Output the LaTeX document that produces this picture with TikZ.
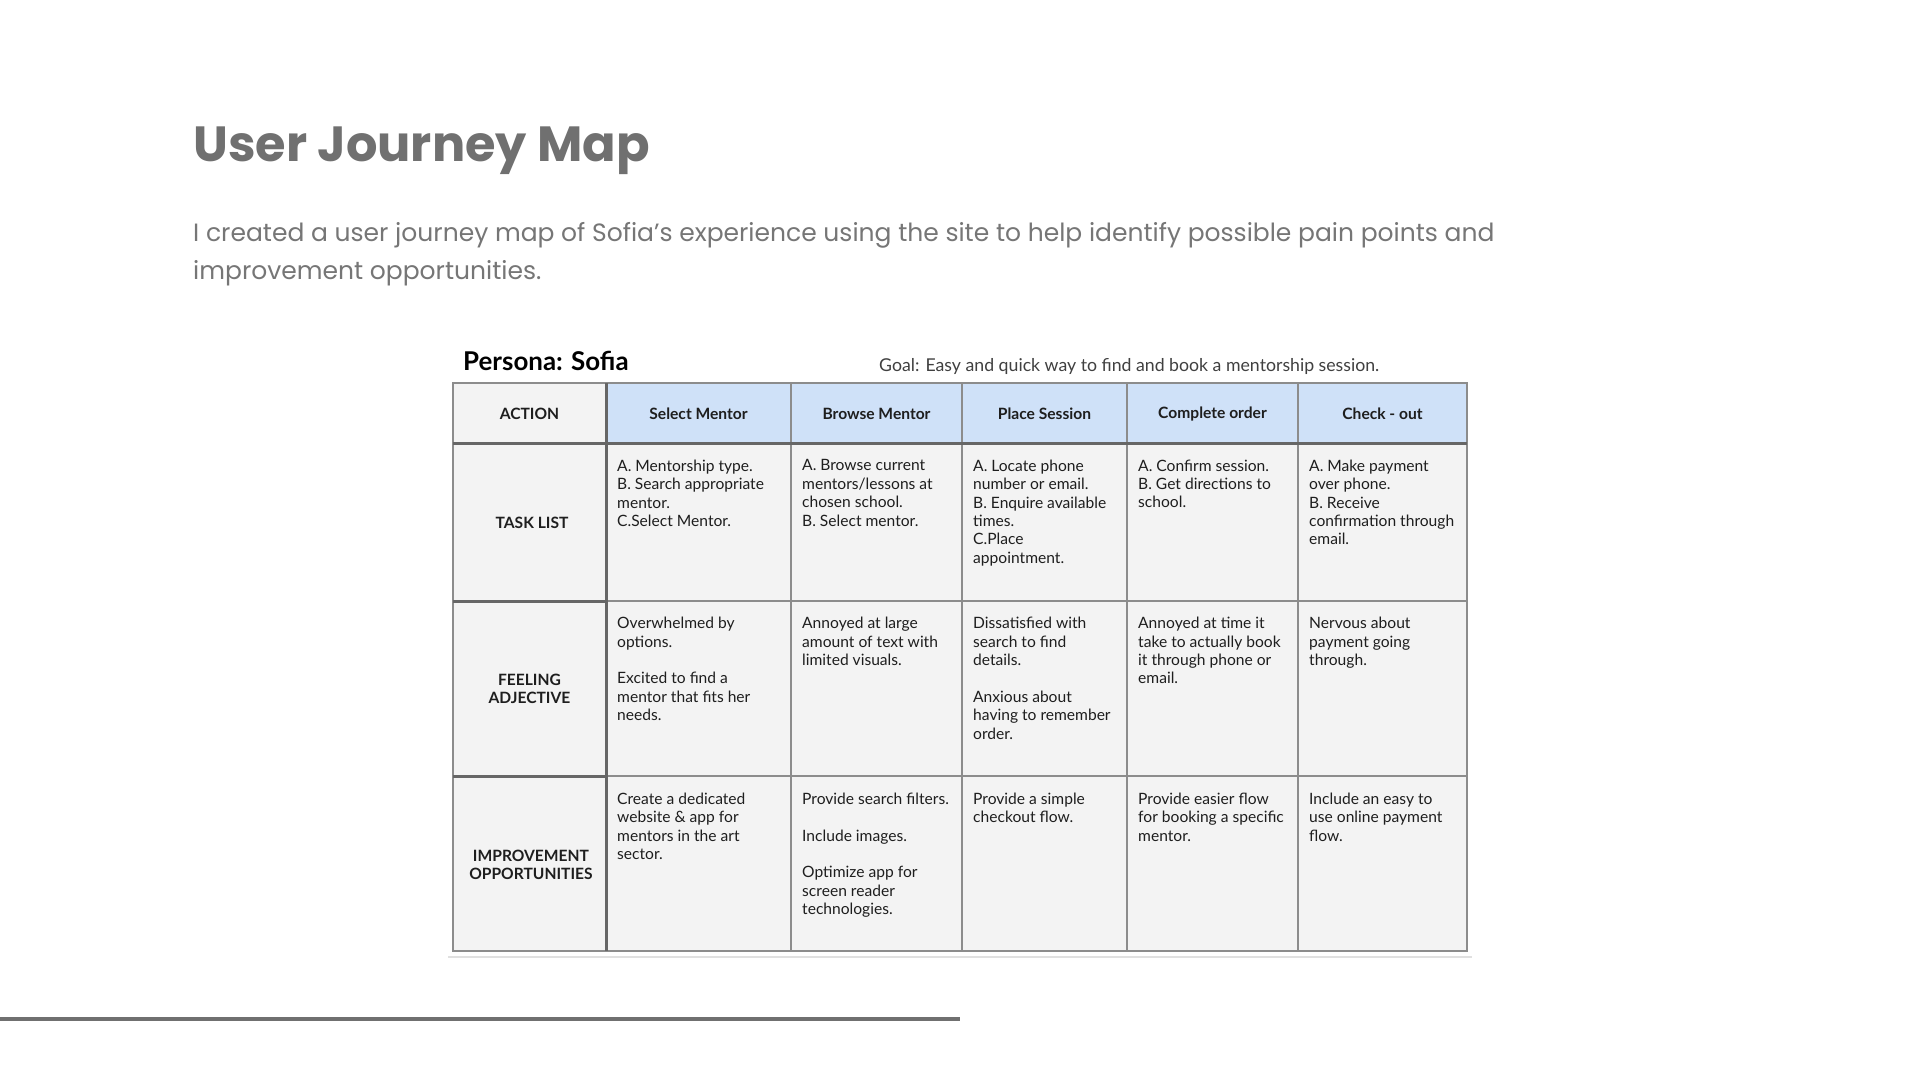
\documentclass[tikz,border=0pt]{standalone}
\usepackage{fontspec}
\setmainfont{Lato}
\newfontfamily\popfont{Poppins}
\definecolor{titlegray}{HTML}{707070}
\definecolor{subgray}{HTML}{767676}
\definecolor{cellgray}{HTML}{F3F3F3}
\definecolor{hdrblue}{HTML}{CFE1F8}
\definecolor{thinline}{HTML}{8C8C8C}
\definecolor{thickline}{HTML}{666666}
\definecolor{ink}{HTML}{1E1E1E}
\definecolor{faint}{HTML}{E0E0E0}
\begin{document}
\begin{tikzpicture}[x=1pt,y=-1pt,
  celltext/.style={anchor=north west, inner sep=0pt, align=left, text=ink,
    font=\fontsize{15.6}{18.4}\selectfont},
  hdrtext/.style={anchor=center, inner sep=0pt, align=center, text=ink,
    font=\fontsize{15.6}{18.4}\selectfont\bfseries},
  thin/.style={draw=thinline, line width=1.3pt},
  thick/.style={draw=thickline, line width=3pt},
]
\useasboundingbox (0,0) rectangle (1920,1080);
\fill[white] (0,0) rectangle (1920,1080);

% title and intro
\node[anchor=base west, inner sep=0pt, text=titlegray, font=\popfont\fontsize{49.4}{60}\selectfont\bfseries] (title) at (193,161) {User Journey Map};
\node[anchor=base west, inner sep=0pt, text=subgray, align=left, font=\popfont\fontsize{25}{38}\selectfont] (intro) at (193,279) {I created a user journey map of Sofia’s experience using the site to help identify possible pain points and\\improvement opportunities.};

% persona and goal
\node[anchor=base west, inner sep=0pt, text=black, font=\fontsize{25.9}{30}\selectfont\bfseries] (persona) at (463,370) {Persona: Sofia};
\node[anchor=base west, inner sep=0pt, text=ink!85, font=\fontsize{17.7}{20}\selectfont] (goal) at (879,371) {Goal: Easy and quick way to find and book a mentorship session.};

% faint shadow line under table
\draw[faint, line width=2pt] (448,957) -- (1472,957);

% cell fills
\fill[cellgray] (453,383) rectangle (1467,951);
\fill[hdrblue] (606,383) rectangle (1467,443);

% thin grid
\draw[thin] (453,383) rectangle (1467,951);
\foreach \x in {791,962,1127,1298} \draw[thin] (\x,383) -- (\x,951);
\foreach \y in {601,776} \draw[thin] (606,\y) -- (1467,\y);
% thick lines
\draw[thick] (606,383) -- (606,951);
\draw[thick] (453,443) -- (1467,443);
\draw[thick] (453,601) -- (606,601);
\draw[thick] (453,776) -- (606,776);

% header row
\node[hdrtext] (hAction) at (529.5,414) {ACTION};
\node[hdrtext] (h1) at (698.5,414) {Select Mentor};
\node[hdrtext] (h2) at (876.5,414) {Browse Mentor};
\node[hdrtext] (h3) at (1044.5,414) {Place Session};
\node[hdrtext] (h4) at (1212.5,414) {Complete order};
\node[hdrtext] (h5) at (1382.5,414) {Check - out};

% row labels
\node[hdrtext] (rTask) at (532,523) {TASK LIST};
\node[hdrtext] (rFeel) at (529.5,689) {FEELING\\ADJECTIVE};
\node[hdrtext] (rImp) at (531,865) {IMPROVEMENT\\OPPORTUNITIES};

% task list row
\node[celltext] (t1) at (617,459.5) {A. Mentorship type.\\B. Search appropriate\\mentor.\\C.Select Mentor.};
\node[celltext] (t2) at (802,459.5) {A. Browse current\\mentors/lessons at\\chosen school.\\B. Select mentor.};
\node[celltext] (t3) at (973,459.5) {A. Locate phone\\number or email.\\B. Enquire available\\times.\\C.Place\\appointment.};
\node[celltext] (t4) at (1138,459.5) {A. Confirm session.\\B. Get directions to\\school.};
\node[celltext] (t5) at (1309,459.5) {A. Make payment\\over phone.\\B. Receive\\confirmation through\\email.};

% feeling row
\node[celltext] (f1) at (617,617) {Overwhelmed by\\options.\\[18.4pt]Excited to find a\\mentor that fits her\\needs.};
\node[celltext] (f2) at (802,617) {Annoyed at large\\amount of text with\\limited visuals.};
\node[celltext] (f3) at (973,617) {Dissatisfied with\\search to find\\details.\\[18.4pt]Anxious about\\having to remember\\order.};
\node[celltext] (f4) at (1138,617) {Annoyed at time it\\take to actually book\\it through phone or\\email.};
\node[celltext] (f5) at (1309,617) {Nervous about\\payment going\\through.};

% improvement row
\node[celltext] (i1) at (617,792.5) {Create a dedicated\\website \& app for\\mentors in the art\\sector.};
\node[celltext] (i2) at (802,792.5) {Provide search filters.\\[18.4pt]Include images.\\[18.4pt]Optimize app for\\screen reader\\technologies.};
\node[celltext] (i3) at (973,792.5) {Provide a simple\\checkout flow.};
\node[celltext] (i4) at (1138,792.5) {Provide easier flow\\for booking a specific\\mentor.};
\node[celltext] (i5) at (1309,792.5) {Include an easy to\\use online payment\\flow.};

% bottom rule
\draw[draw=titlegray, line width=4pt] (0,1019) -- (960,1019);
\end{tikzpicture}
\end{document}
